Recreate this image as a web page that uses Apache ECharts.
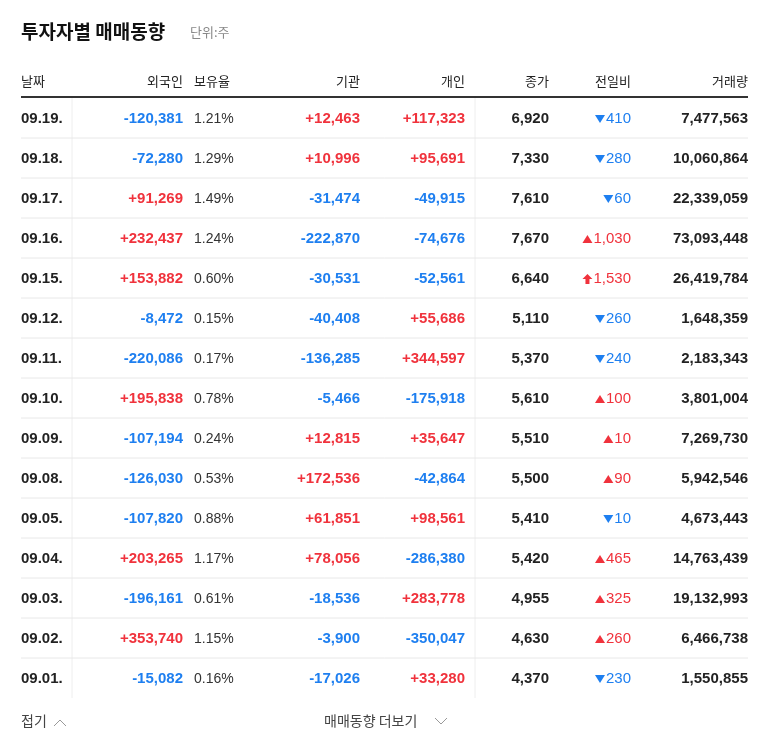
<!DOCTYPE html>
<html><head><meta charset="utf-8">
<script src="https://cdn.jsdelivr.net/npm/echarts@6/dist/echarts.min.js"></script>
<style>html,body{margin:0;padding:0;background:#fff}#c{width:768px;height:749px}</style>
</head><body><div id="c"></div>
<script>
const dates=['09.19.','09.18.','09.17.','09.16.','09.15.','09.12.','09.11.','09.10.','09.09.','09.08.','09.05.','09.04.','09.03.','09.02.','09.01.'];
const foreign=[-120381,-72280,91269,232437,153882,-8472,-220086,195838,-107194,-126030,-107820,203265,-196161,353740,-15082];
const holdRatio=[1.21,1.29,1.49,1.24,0.60,0.15,0.17,0.78,0.24,0.53,0.88,1.17,0.61,1.15,0.16];
const institution=[12463,10996,-31474,-222870,-30531,-40408,-136285,-5466,12815,172536,61851,78056,-18536,-3900,-17026];
const individual=[117323,95691,-49915,-74676,-52561,55686,344597,-175918,35647,-42864,98561,-286380,283778,-350047,33280];
const closePrice=[6920,7330,7610,7670,6640,5110,5370,5610,5510,5500,5410,5420,4955,4630,4370];
const change=[-410,-280,-60,1030,1530,-260,-240,100,10,90,-10,465,325,260,-230];
const upperLimit=[false,false,false,false,true,false,false,false,false,false,false,false,false,false,false];
const volume=[7477563,10060864,22339059,73093448,26419784,1648359,2183343,3801004,7269730,5942546,4673443,14763439,19132993,6466738,1550855];
const headers=['날짜','외국인','보유율','기관','개인','종가','전일비','거래량'];

const BLUE='#1e7ff0',RED='#f0323c',DARK='#222';
const NUM='"Liberation Sans", Arial, sans-serif';
const KR='"Noto Sans CJK KR", sans-serif';
const fmt=v=>Math.abs(v).toLocaleString('en-US');
const sgn=v=>(v>0?'+':'-')+fmt(v);
const col=v=>v>0?RED:BLUE;
const mctx=document.createElement('canvas').getContext('2d');
mctx.font='15px "Liberation Sans"';

const chart=echarts.init(document.getElementById('c'));
function txt(x,y,s,opt){return {type:'text',x:x,y:y,style:Object.assign({text:s,textVerticalAlign:'middle',fontFamily:NUM,fontSize:15},opt)};}
chart.setOption({
  animation:false,
  grid:{left:0,right:0,top:98,bottom:51},
  xAxis:{type:'value',min:0,max:768,show:false},
  yAxis:{type:'category',data:dates,inverse:true,show:false},
  graphic:[
    {type:'text',x:21,y:32,style:{text:'투자자별 매매동향',textVerticalAlign:'middle',fontFamily:KR,fontSize:19,fontWeight:'bold',fill:'#111'}},
    {type:'text',x:190,y:32,style:{text:'단위:주',textVerticalAlign:'middle',fontFamily:KR,fontSize:13,fill:'#888'}},
    {type:'line',shape:{x1:21,y1:97,x2:748,y2:97},style:{stroke:'#333',lineWidth:2}},
    {type:'line',shape:{x1:72,y1:98,x2:72,y2:698},style:{stroke:'#eee',lineWidth:1}},
    {type:'line',shape:{x1:475,y1:98,x2:475,y2:698},style:{stroke:'#eee',lineWidth:1}},
    ...headers.map((h,i)=>{
      const xs=[21,183,194,360,465,549,631,748],al=['left','right','left','right','right','right','right','right'];
      return {type:'text',x:xs[i],y:81,style:{text:h,textAlign:al[i],textVerticalAlign:'middle',fontFamily:KR,fontSize:13,fill:'#222'}};
    }),
    {type:'text',x:21,y:721,style:{text:'접기',textVerticalAlign:'middle',fontFamily:KR,fontSize:14,fill:'#444'}},
    {type:'polyline',shape:{points:[[54,726],[60,720],[66,726]]},style:{stroke:'#999',lineWidth:1,fill:null}},
    {type:'text',x:324,y:721,style:{text:'매매동향 더보기',textVerticalAlign:'middle',fontFamily:KR,fontSize:14,fill:'#444'}},
    {type:'polyline',shape:{points:[[435,718],[441,724],[447,718]]},style:{stroke:'#999',lineWidth:1,fill:null}}
  ],
  series:[{type:'custom',data:dates.map((d,i)=>[0,i]),
    renderItem:function(params,api){
      const i=api.value(1);const p=api.coord([0,i]);const y=p[1]+1;
      const bw=api.size([0,1])[1];
      const ch=change[i];const cc=ch>0?RED:BLUE;
      const s=fmt(ch);
      const ax=631-mctx.measureText(s).width-6;
      let arrow;
      if(upperLimit[i]) arrow={type:'polygon',shape:{points:[[ax,y-5],[ax+5,y],[ax+2,y],[ax+2,y+5],[ax-2,y+5],[ax-2,y],[ax-5,y]]},style:{fill:cc}};
      else if(ch>0) arrow={type:'polygon',shape:{points:[[ax-5,y+4],[ax+5,y+4],[ax,y-4]]},style:{fill:cc}};
      else arrow={type:'polygon',shape:{points:[[ax-5,y-4],[ax+5,y-4],[ax,y+4]]},style:{fill:cc}};
      const ch2=[
        txt(21,y,dates[i],{fill:DARK,fontWeight:'bold'}),
        txt(183,y,sgn(foreign[i]),{fill:col(foreign[i]),fontWeight:'bold',textAlign:'right'}),
        txt(194,y,holdRatio[i].toFixed(2)+'%',{fill:'#333',textAlign:'left',fontSize:14}),
        txt(360,y,sgn(institution[i]),{fill:col(institution[i]),fontWeight:'bold',textAlign:'right'}),
        txt(465,y,sgn(individual[i]),{fill:col(individual[i]),fontWeight:'bold',textAlign:'right'}),
        txt(549,y,fmt(closePrice[i]),{fill:DARK,fontWeight:'bold',textAlign:'right'}),
        txt(631,y,s,{fill:cc,textAlign:'right'}),
        arrow,
        txt(748,y,fmt(volume[i]),{fill:DARK,fontWeight:'bold',textAlign:'right'})
      ];
      if(i<dates.length-1) ch2.push({type:'line',shape:{x1:21,y1:p[1]+bw/2,x2:748,y2:p[1]+bw/2},style:{stroke:'#e8e8e8',lineWidth:1}});
      return {type:'group',children:ch2};
    }}]
});
</script></body></html>
